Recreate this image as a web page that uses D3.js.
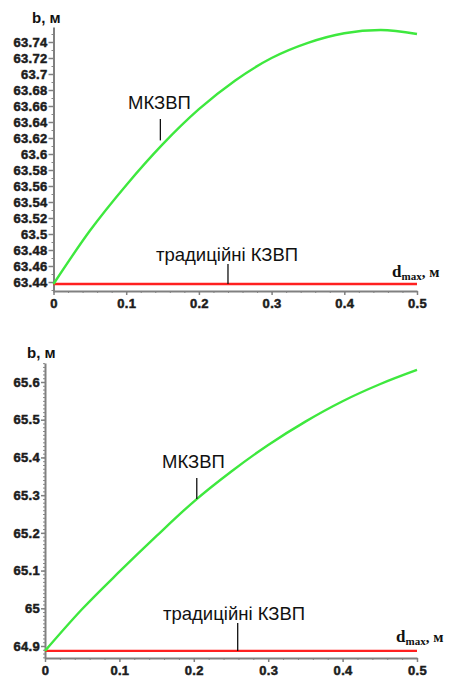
<!DOCTYPE html>
<html>
<head>
<meta charset="utf-8">
<script src="https://cdn.jsdelivr.net/npm/d3@7"></script>
<style>
  body { margin: 0; background: #fff; }
  svg { display: block; }
  .tick text { font-family: "Liberation Sans", Arial, sans-serif; font-weight: bold; font-size: 13px;
               fill: #1c1c1c; stroke: #1c1c1c; stroke-width: 0.5px; letter-spacing: 0.3px; }
</style>
</head>
<body>
<svg id="chart" width="449" height="678"></svg>
<script>
// d_max, m
const dValues = [0, 0.05, 0.1, 0.15, 0.2, 0.25, 0.3, 0.35, 0.4, 0.45, 0.5];

// top panel: b, m
const topMkzvp = [63.4375, 63.504, 63.561, 63.612, 63.656, 63.692, 63.720, 63.739, 63.751, 63.755, 63.750];
const topTraditional = [63.4375, 63.4375];
const topYTicks = [63.44, 63.46, 63.48, 63.5, 63.52, 63.54, 63.56, 63.58, 63.6, 63.62, 63.64, 63.66, 63.68, 63.7, 63.72, 63.74];

// bottom panel: b, m
const bottomMkzvp = [64.887, 64.998, 65.097, 65.192, 65.283, 65.362, 65.433, 65.495, 65.549, 65.594, 65.632];
const bottomTraditional = [64.887, 64.887];
const bottomYTicks = [64.9, 65, 65.1, 65.2, 65.3, 65.4, 65.5, 65.6];

const xTicks = [0, 0.1, 0.2, 0.3, 0.4, 0.5];
const xMinorTicks = d3.range(0, 0.5001, 0.02);

const svg = d3.select('#chart');

function drawPanel(cfg) {
    const g = svg.append('g');

    const x = d3.scaleLinear().domain([0, 0.5]).range([cfg.x0, cfg.x1]);

    // y scale pinned on two ticks, then stretched to the axis ends
    const yBase = d3.scaleLinear().domain(cfg.yRef).range(cfg.yRefPx);
    const y = d3.scaleLinear()
        .domain([yBase.invert(cfg.yBottom), yBase.invert(cfg.yTop)])
        .range([cfg.yBottom, cfg.yTop]);

    // minor ticks
    g.append('g')
        .attr('transform', `translate(${cfg.x0},0)`)
        .call(d3.axisLeft(y).tickValues(cfg.yMinor).tickSize(2).tickFormat(''))
        .call(a => a.select('.domain').remove())
        .call(a => a.selectAll('line').attr('stroke', '#888'));

    g.append('g')
        .attr('transform', `translate(0,${cfg.yBottom})`)
        .call(d3.axisBottom(x).tickValues(xMinorTicks).tickSize(2).tickFormat(''))
        .call(a => a.select('.domain').remove())
        .call(a => a.selectAll('line').attr('stroke', '#888'));

    // y axis
    g.append('g')
        .attr('transform', `translate(${cfg.x0},0)`)
        .call(d3.axisLeft(y).tickValues(cfg.yTicks).tickSize(cfg.yTickLen).tickSizeOuter(0)
            .tickPadding(1).tickFormat(d => String(d)))
        .call(a => a.select('.domain').attr('stroke', '#808080').attr('stroke-width', 2))
        .call(a => a.selectAll('.tick line').attr('stroke', '#808080').attr('stroke-width', 1.5));

    // x axis
    g.append('g')
        .attr('transform', `translate(0,${cfg.yBottom})`)
        .call(d3.axisBottom(x).tickValues(xTicks).tickSize(4).tickSizeOuter(0)
            .tickPadding(4).tickFormat(d => String(d)))
        .call(a => a.select('.domain').attr('stroke', '#808080').attr('stroke-width', 2))
        .call(a => a.selectAll('.tick line').attr('stroke', '#808080').attr('stroke-width', 1.5));

    // traditional line
    g.append('path')
        .datum(cfg.trad.map((v, i) => [i === 0 ? 0 : 0.5, v]))
        .attr('fill', 'none')
        .attr('stroke', '#ff2020')
        .attr('stroke-width', 2.4)
        .attr('d', d3.line().x(d => x(d[0])).y(d => y(d[1])));

    // modified line
    g.append('path')
        .datum(dValues.map((d, i) => [d, cfg.mkzvp[i]]))
        .attr('fill', 'none')
        .attr('stroke', '#3ee83e')
        .attr('stroke-width', 2.4)
        .attr('d', d3.line().curve(d3.curveMonotoneX).x(d => x(d[0])).y(d => y(d[1])));

    // annotations
    const mk = cfg.mkLabel;
    g.append('text')
        .attr('x', mk.x).attr('y', mk.y)
        .attr('font-family', '"Liberation Sans", Arial, sans-serif')
        .attr('font-size', 18.5).attr('fill', '#111')
        .text('МКЗВП');
    g.append('line')
        .attr('x1', x(mk.d)).attr('x2', x(mk.d))
        .attr('y1', mk.y + 10).attr('y2', y(mk.v))
        .attr('stroke', '#111').attr('stroke-width', 1.3);

    const tr = cfg.trLabel;
    g.append('text')
        .attr('x', tr.x).attr('y', tr.y)
        .attr('font-family', '"Liberation Sans", Arial, sans-serif')
        .attr('font-size', 18.5).attr('fill', '#111')
        .text('традиційні КЗВП');
    g.append('line')
        .attr('x1', x(tr.d)).attr('x2', x(tr.d))
        .attr('y1', tr.y + 3).attr('y2', y(cfg.trad[0]))
        .attr('stroke', '#111').attr('stroke-width', 1.3);

    // axis titles
    g.append('text')
        .attr('x', cfg.bLabel[0]).attr('y', cfg.bLabel[1])
        .attr('font-family', '"Liberation Sans", Arial, sans-serif')
        .attr('font-weight', 'bold').attr('font-size', 15).attr('fill', '#111')
        .text('b, м');

    const dl = g.append('text')
        .attr('x', cfg.dLabel[0]).attr('y', cfg.dLabel[1])
        .attr('font-family', '"Liberation Serif", "Times New Roman", serif')
        .attr('font-weight', 'bold').attr('fill', '#111');
    dl.append('tspan').attr('font-size', 17).text('d');
    dl.append('tspan').attr('font-size', 11).attr('dy', 3).text('max');
    dl.append('tspan').attr('font-size', 15).attr('dy', -3).text(', м');
}

drawPanel({
    x0: 53.5, x1: 417, yTop: 27, yBottom: 291,
    yRef: [63.44, 63.74], yRefPx: [282, 42],
    yTicks: topYTicks, yMinor: d3.range(63.43, 63.755, 0.01), yTickLen: 5,
    mkzvp: topMkzvp, trad: topTraditional,
    mkLabel: { x: 128, y: 109, d: 0.147, v: 63.617 },
    trLabel: { x: 156, y: 261, d: 0.24 },
    bLabel: [32, 23], dLabel: [392, 277]
});

drawPanel({
    x0: 45, x1: 417, yTop: 363, yBottom: 658,
    yRef: [64.9, 65.6], yRefPx: [646, 382],
    yTicks: bottomYTicks, yMinor: d3.range(64.87, 65.655, 0.01), yTickLen: 4,
    mkzvp: bottomMkzvp, trad: bottomTraditional,
    mkLabel: { x: 162, y: 468, d: 0.204, v: 65.29 },
    trLabel: { x: 163, y: 620, d: 0.259 },
    bLabel: [27, 358], dLabel: [396, 642]
});
</script>
</body>
</html>
